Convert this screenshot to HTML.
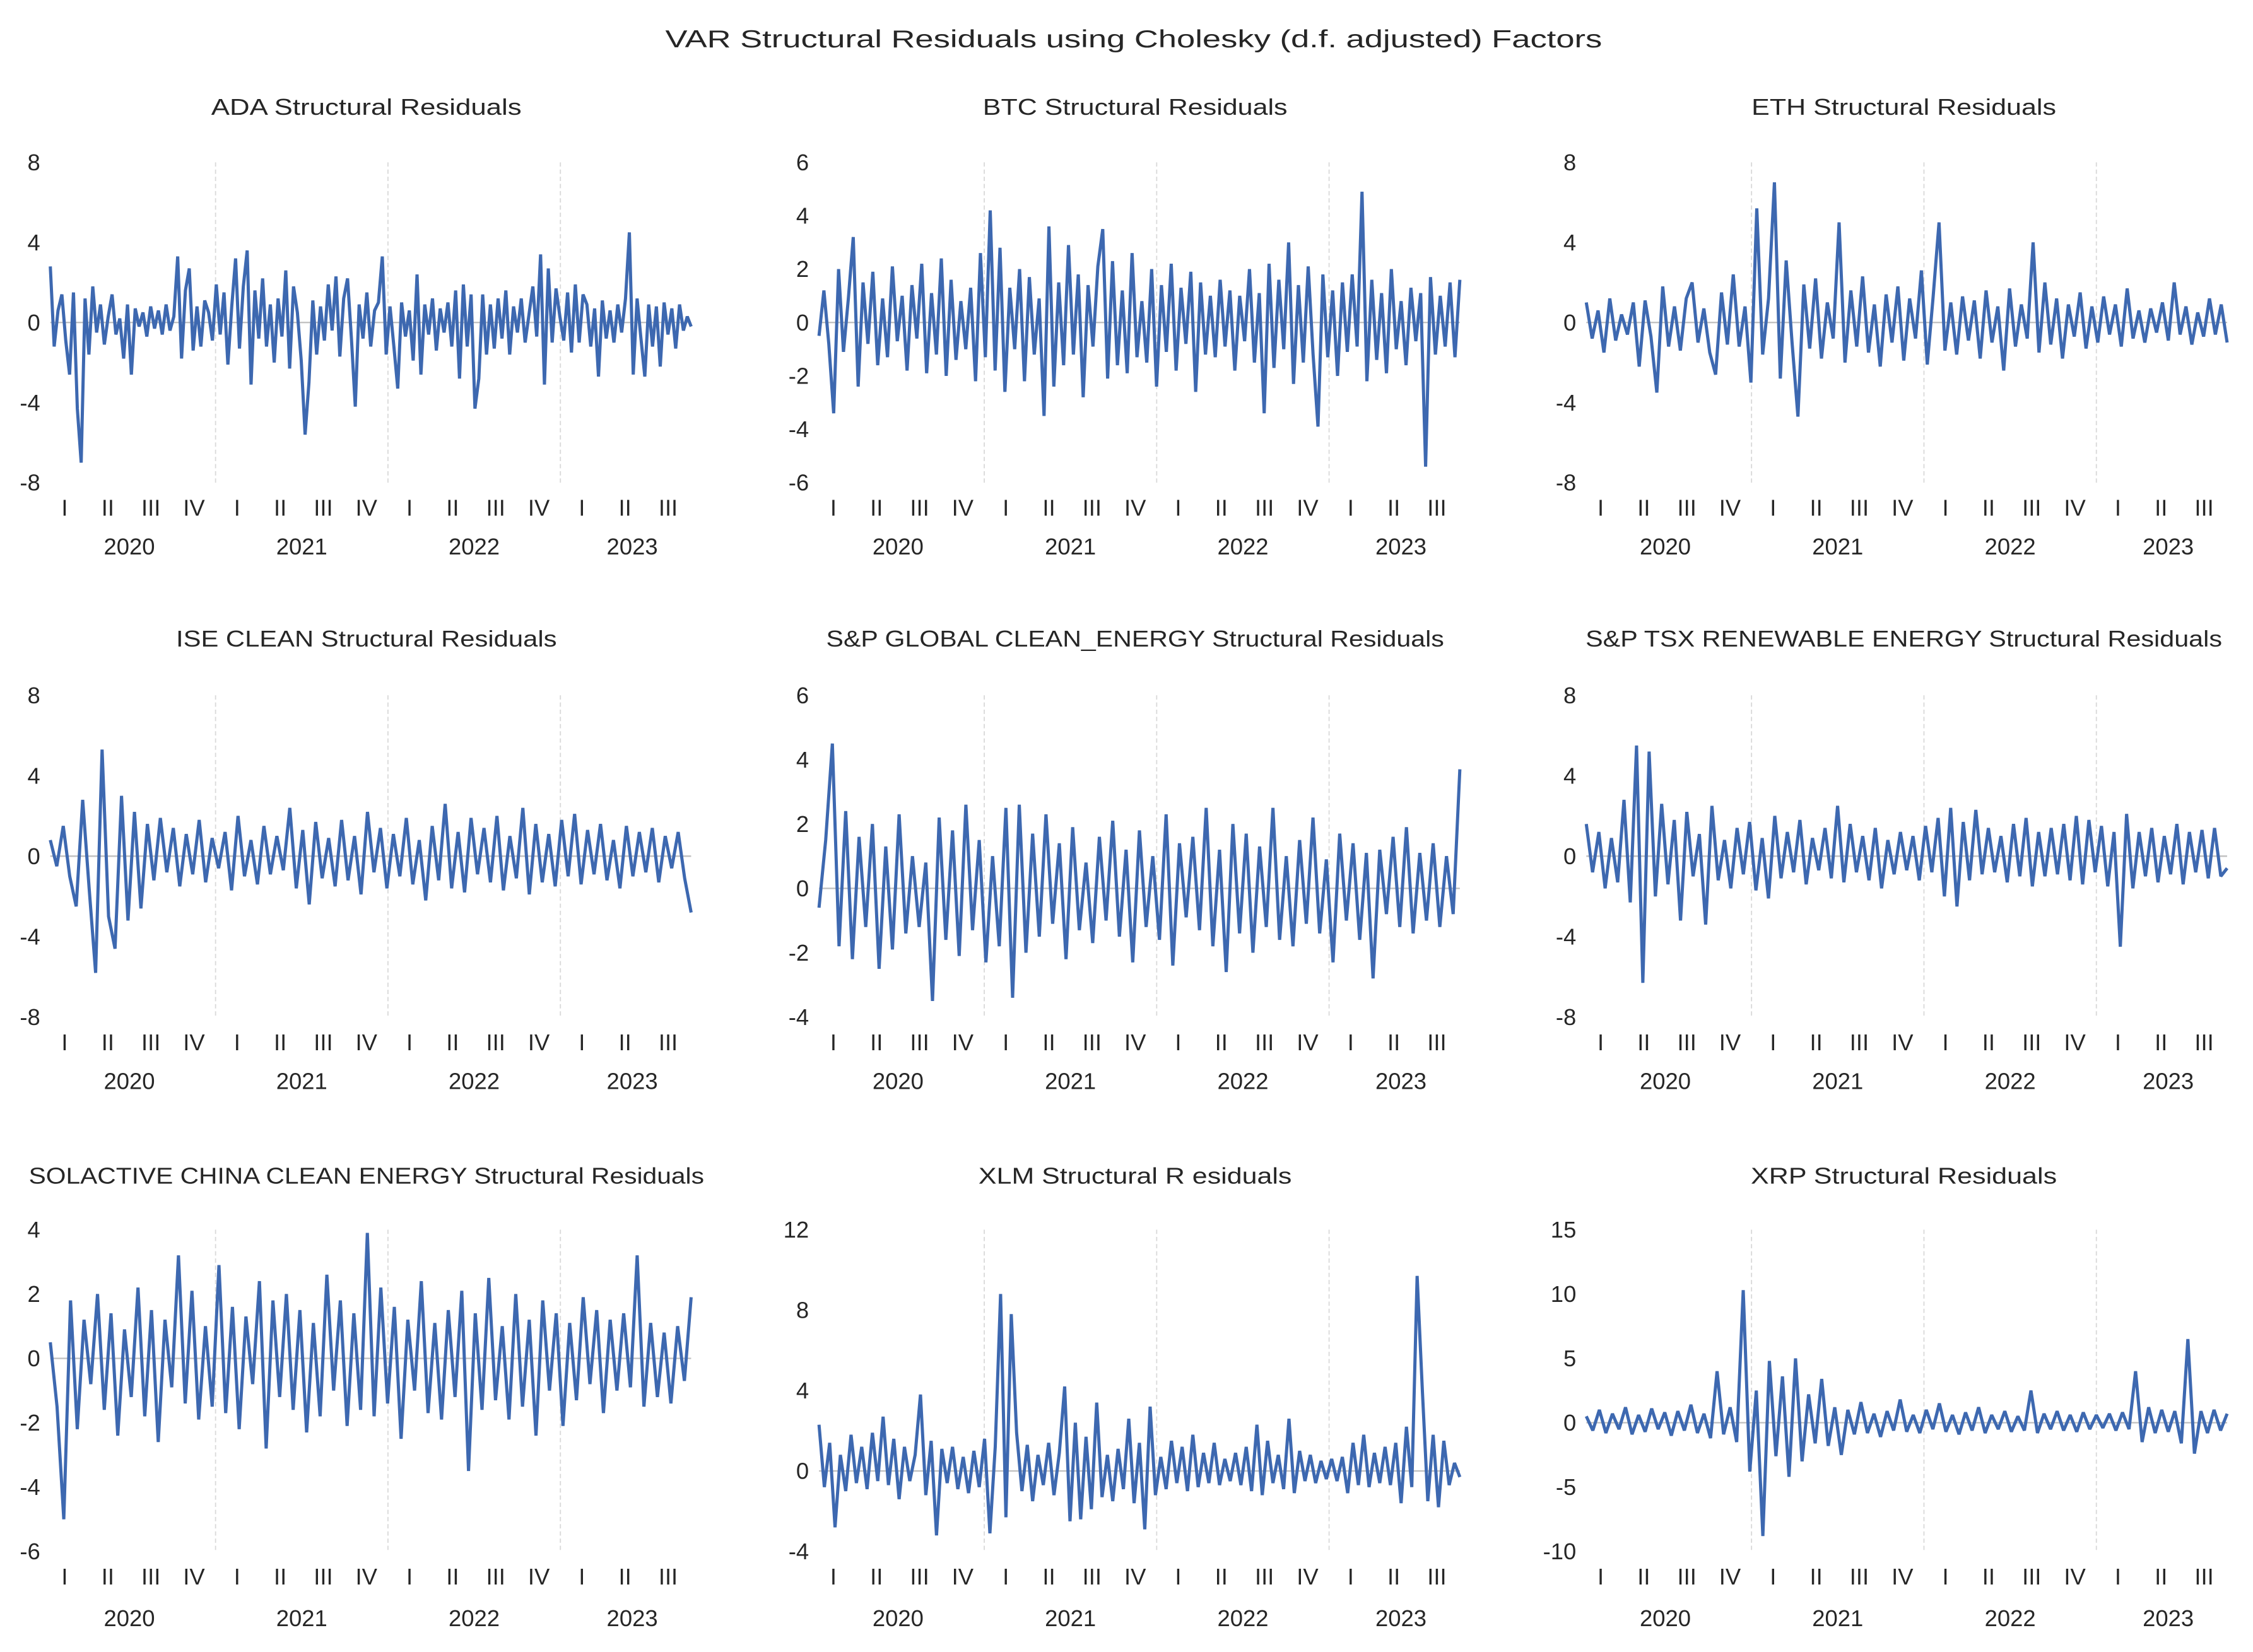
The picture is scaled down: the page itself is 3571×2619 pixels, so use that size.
<!DOCTYPE html>
<html><head><meta charset="utf-8"><style>
html,body{margin:0;padding:0;background:#fff;}
svg{display:block;}
text{font-family:"Liberation Sans",sans-serif;fill:#262626;}
</style></head><body>
<svg id="chart" xmlns="http://www.w3.org/2000/svg" width="3571" height="2619" viewBox="0 0 1568 1150">
<rect width="1568" height="1150" fill="#fff"/>
<text x="789" y="33" text-anchor="middle" font-size="17" textLength="652" lengthAdjust="spacingAndGlyphs">VAR Structural Residuals using Cholesky (d.f. adjusted) Factors</text>
<g id="panels"></g>
</svg>
<script>
const titles = ["ADA Structural Residuals","BTC Structural Residuals","ETH Structural Residuals","ISE CLEAN Structural Residuals","S&P GLOBAL CLEAN_ENERGY Structural Residuals","S&P TSX RENEWABLE ENERGY  Structural Residuals","SOLACTIVE CHINA CLEAN ENERGY Structural Residuals","XLM Structural R esiduals","XRP Structural Residuals"];
const yMins = [-8,-6,-8,-8,-4,-8,-6,-4,-10];
const yMaxs = [8,6,8,8,6,8,4,12,15];
const ySteps = [4,2,4,4,2,4,2,4,5];
const quarterLabels = ["I","II","III","IV","I","II","III","IV","I","II","III","IV","I","II","III"];
const yearLabels = ["2020","2021","2022","2023"];
const ada = [2.8,-1.2,0.6,1.4,-0.9,-2.6,1.5,-4.3,-7.0,1.2,-1.6,1.8,-0.5,0.9,-1.1,0.3,1.4,-0.6,0.2,-1.8,0.9,-2.6,0.7,-0.2,0.5,-0.7,0.8,-0.3,0.6,-0.6,0.9,-0.4,0.3,3.3,-1.8,1.6,2.7,-1.4,0.8,-1.2,1.1,0.5,-0.9,1.9,-0.6,1.5,-2.1,0.8,3.2,-1.3,1.8,3.6,-3.1,1.6,-0.8,2.2,-1.2,0.9,-2.0,1.2,-0.7,2.6,-2.3,1.8,0.5,-1.9,-5.6,-3.0,1.1,-1.6,0.8,-0.9,1.9,-0.4,2.3,-1.7,1.2,2.2,-0.8,-4.2,0.9,-0.8,1.5,-1.2,0.6,1.0,3.3,-1.6,0.8,-1.2,-3.3,1.0,-0.7,0.6,-1.9,2.4,-2.6,0.9,-0.6,1.2,-1.4,0.7,-0.5,1.0,-1.2,1.6,-2.8,1.9,-1.2,1.4,-4.3,-2.8,1.4,-1.6,0.9,-1.3,1.2,-0.8,1.6,-1.6,0.8,-0.5,1.2,-1.0,0.4,1.8,-0.7,3.4,-3.1,2.7,-1.0,1.7,0.3,-0.9,1.5,-1.5,1.9,-1.0,1.4,0.9,-1.2,0.7,-2.7,1.1,-0.8,0.6,-1.0,0.9,-0.5,1.2,4.5,-2.6,1.2,-0.8,-2.7,0.9,-1.2,0.8,-2.2,1.0,-0.6,0.7,-1.3,0.9,-0.4,0.3,-0.2];
const btc = [-0.5,1.2,-0.8,-3.4,2.0,-1.1,0.9,3.2,-2.4,1.5,-0.8,1.9,-1.6,0.9,-1.3,2.1,-0.7,1.0,-1.8,1.4,-0.6,2.2,-1.9,1.1,-1.2,2.4,-2.0,1.6,-1.4,0.8,-1.0,1.3,-2.2,2.6,-1.3,4.2,-1.8,2.8,-2.6,1.3,-1.0,2.0,-2.2,1.7,-1.2,0.9,-3.5,3.6,-2.4,1.5,-1.6,2.9,-1.2,1.8,-2.8,1.4,-0.9,2.1,3.5,-2.1,2.3,-1.6,1.2,-1.9,2.6,-1.3,0.8,-1.5,2.0,-2.4,1.4,-1.1,2.2,-1.8,1.3,-0.8,1.9,-2.6,1.5,-1.2,1.0,-1.3,1.6,-0.9,1.2,-1.8,1.0,-0.7,2.0,-1.5,1.1,-3.4,2.2,-1.7,1.6,-1.0,3.0,-2.3,1.4,-1.5,2.1,-1.2,-3.9,1.8,-1.3,1.2,-2.0,1.5,-1.1,1.8,-0.9,4.9,-2.2,1.6,-1.4,1.1,-1.9,2.0,-1.0,0.8,-1.6,1.3,-0.7,1.1,-5.4,1.7,-1.2,1.0,-0.9,1.5,-1.3,1.6];
const eth = [1.0,-0.8,0.6,-1.5,1.2,-0.9,0.4,-0.6,1.0,-2.2,1.1,-0.7,-3.5,1.8,-1.2,0.8,-1.4,1.2,2.0,-1.0,0.7,-1.5,-2.6,1.5,-1.1,2.4,-1.2,0.8,-3.0,5.7,-1.6,1.2,7.0,-2.8,3.1,-1.0,-4.7,1.9,-1.3,2.2,-1.8,1.0,-0.8,5.0,-2.0,1.6,-1.2,2.3,-1.5,0.9,-2.2,1.4,-1.0,1.8,-1.9,1.2,-0.8,2.6,-2.1,1.3,5.0,-1.4,1.0,-1.6,1.3,-0.9,1.1,-1.8,1.6,-1.0,0.8,-2.4,1.7,-1.2,0.9,-0.8,4.0,-1.5,2.0,-1.1,1.2,-1.8,0.9,-0.7,1.5,-1.3,0.8,-1.0,1.3,-0.6,0.9,-1.2,1.7,-0.8,0.6,-1.0,0.7,-0.5,1.0,-0.9,2.0,-0.6,0.8,-1.1,0.5,-0.7,1.2,-0.6,0.9,-1.0];
const ise = [0.8,-0.5,1.5,-1.0,-2.5,2.8,-1.6,-5.8,5.3,-3.0,-4.6,3.0,-3.2,2.2,-2.6,1.6,-1.2,1.9,-0.8,1.4,-1.5,1.1,-0.9,1.8,-1.3,0.9,-0.6,1.2,-1.7,2.0,-1.0,0.8,-1.4,1.5,-0.9,1.0,-0.7,2.4,-1.6,1.3,-2.4,1.7,-1.1,0.9,-1.5,1.8,-1.2,1.0,-1.9,2.2,-0.8,1.4,-1.6,1.1,-1.0,1.9,-1.4,0.8,-2.2,1.5,-1.2,2.6,-1.6,1.2,-1.8,1.9,-0.9,1.4,-1.3,2.0,-1.7,1.0,-1.1,2.4,-1.9,1.6,-1.3,1.1,-1.5,1.8,-1.0,2.1,-1.4,1.3,-0.9,1.6,-1.2,0.8,-1.6,1.5,-1.0,1.2,-0.8,1.4,-1.3,1.0,-0.6,1.2,-1.1,-2.8];
const spg = [-0.6,1.5,4.5,-1.8,2.4,-2.2,1.6,-1.2,2.0,-2.5,1.3,-1.9,2.3,-1.4,1.0,-1.2,0.8,-3.5,2.2,-1.6,1.8,-2.1,2.6,-1.3,1.5,-2.3,1.0,-1.8,2.5,-3.4,2.6,-2.0,1.7,-1.5,2.3,-1.1,1.4,-2.2,1.9,-1.3,0.8,-1.7,1.6,-1.0,2.1,-1.5,1.2,-2.3,1.8,-1.2,1.0,-1.6,2.3,-2.4,1.4,-0.9,1.6,-1.3,2.5,-1.8,1.2,-2.6,2.0,-1.4,1.7,-2.0,1.3,-1.2,2.5,-1.6,1.0,-1.8,1.5,-1.1,2.2,-1.4,0.9,-2.3,1.7,-1.0,1.4,-1.6,1.1,-2.8,1.2,-0.8,1.6,-1.2,1.9,-1.4,1.1,-1.0,1.4,-1.2,1.0,-0.8,3.7];
const tsx = [1.6,-0.8,1.2,-1.6,0.9,-1.3,2.8,-2.3,5.5,-6.3,5.2,-2.0,2.6,-1.4,1.8,-3.2,2.2,-1.0,1.1,-3.4,2.5,-1.2,0.8,-1.6,1.4,-0.9,1.7,-1.7,0.9,-2.1,2.0,-1.1,1.2,-0.8,1.8,-1.4,0.9,-0.7,1.4,-1.1,2.5,-1.3,1.6,-0.8,1.0,-1.2,1.4,-1.6,0.8,-0.9,1.2,-0.7,1.0,-1.2,1.5,-0.8,1.9,-2.0,2.4,-2.5,1.7,-1.2,2.3,-0.9,1.4,-0.8,1.0,-1.3,1.6,-1.0,1.9,-1.5,1.2,-1.0,1.4,-0.9,1.6,-1.2,2.0,-1.4,1.8,-0.8,1.5,-1.5,1.2,-4.5,2.1,-1.6,1.2,-1.0,1.4,-1.3,1.0,-0.9,1.6,-1.4,1.2,-0.8,1.3,-1.1,1.4,-1.0,-0.6];
const sol = [0.5,-1.5,-5.0,1.8,-2.2,1.2,-0.8,2.0,-1.6,1.4,-2.4,0.9,-1.2,2.2,-1.8,1.5,-2.6,1.2,-0.9,3.2,-1.4,2.1,-1.9,1.0,-1.5,2.9,-1.7,1.6,-2.2,1.3,-0.8,2.4,-2.8,1.8,-1.2,2.0,-1.6,1.5,-2.3,1.1,-1.8,2.6,-1.0,1.8,-2.1,1.4,-1.6,3.9,-1.8,2.2,-1.4,1.6,-2.5,1.2,-1.0,2.4,-1.7,1.1,-1.9,1.5,-1.2,2.1,-3.5,1.4,-1.6,2.5,-1.3,1.0,-1.9,2.0,-1.5,1.2,-2.4,1.8,-1.0,1.4,-2.1,1.1,-1.3,1.9,-0.8,1.5,-1.7,1.2,-1.0,1.4,-0.9,3.2,-1.5,1.1,-1.2,0.8,-1.4,1.0,-0.7,1.9];
const xlm = [2.3,-0.8,1.4,-2.8,0.8,-1.0,1.8,-0.6,1.2,-0.9,1.9,-0.5,2.7,-0.7,1.6,-1.4,1.2,-0.5,0.8,3.8,-1.2,1.5,-3.2,1.1,-0.6,1.2,-0.9,0.7,-1.1,1.0,-0.8,1.6,-3.1,1.2,8.8,-2.3,7.8,1.9,-1.0,1.3,-1.5,0.8,-0.7,1.4,-1.2,0.9,4.2,-2.5,2.4,-2.4,1.7,-1.9,3.4,-1.3,0.8,-1.5,1.1,-0.9,2.6,-1.6,1.4,-2.9,3.2,-1.2,0.7,-0.9,1.5,-0.6,1.2,-1.0,1.8,-0.8,0.9,-0.6,1.4,-0.7,0.6,-0.5,0.9,-0.7,1.2,-1.0,2.3,-1.2,1.5,-0.6,0.8,-0.9,2.6,-1.1,1.0,-0.5,0.8,-0.6,0.5,-0.4,0.6,-0.5,0.7,-1.1,1.4,-0.7,1.8,-0.8,0.9,-0.6,1.2,-0.7,1.4,-1.6,2.2,-0.8,9.7,3.9,-1.5,1.8,-1.8,1.5,-0.7,0.4,-0.3];
const xrp = [0.5,-0.6,1.0,-0.8,0.7,-0.5,1.2,-0.9,0.6,-0.7,1.1,-0.5,0.8,-1.0,0.9,-0.6,1.4,-0.8,0.7,-1.2,4.0,-0.9,1.2,-1.5,10.3,-3.8,2.5,-8.8,4.8,-2.6,3.6,-4.2,5.0,-3.0,2.2,-1.6,3.4,-1.8,1.2,-2.5,1.0,-0.9,1.6,-0.8,0.7,-1.1,0.9,-0.6,1.8,-0.7,0.6,-0.8,1.0,-0.5,1.5,-0.7,0.6,-0.9,0.8,-0.6,1.2,-0.8,0.6,-0.5,0.9,-0.7,0.5,-0.6,2.5,-0.8,0.7,-0.5,0.9,-0.6,0.6,-0.7,0.8,-0.5,0.6,-0.4,0.7,-0.6,0.8,-0.5,4.0,-1.5,1.2,-0.8,1.0,-0.7,0.9,-1.6,6.5,-2.4,0.9,-0.8,1.0,-0.6,0.7];
const seriesList = [ada,btc,eth,ise,spg,tsx,sol,xlm,xrp];

const NS = "http://www.w3.org/2000/svg";
const root = document.getElementById("panels");
const colX0 = [35,570,1104], colYear = [30,565,1099], colLabelX = [28,563,1097], colTitleX = [255,790,1325];
const rowTop = [113,484,856], rowBot = [336,708,1080], rowTitle = [74,444,818], rowQ = [353,725,1097], rowYr = [380,752,1126];
const titleW = [216,212,212,265,430,443,470,218,213];
const plotW = 446, yearW = 120;
function mk(tag, attrs, parent){const e=document.createElementNS(NS,tag);for(const k in attrs)e.setAttribute(k,attrs[k]);parent.appendChild(e);return e;}
seriesList.forEach((data, p) => {
  const c = p % 3, r = Math.floor(p / 3);
  const g = mk("g", {}, root);
  
  
  const yS = v => rowBot[r] - (v - yMins[p]) / (yMaxs[p] - yMins[p]) * (rowBot[r] - rowTop[r]);
  const xS = i => colX0[c] + i / (data.length - 1) * plotW;
  const t = mk("text", {x: colTitleX[c], y: rowTitle[r] + 6, "text-anchor": "middle", "font-size": 16, textLength: titleW[p], lengthAdjust: "spacingAndGlyphs"}, g);
  
  
  t.textContent = titles[p];
  for (let k = 1; k <= 3; k++) {
    const gx = colYear[c] + k * yearW;
    const gl = mk("line", {x1: gx, x2: gx, y1: rowTop[r], y2: rowBot[r], stroke: "#d9d9d9", "stroke-width": 0.8, "stroke-dasharray": "3,2"}, g);
    
    
  }
  const z = mk("line", {x1: colX0[c], x2: colX0[c] + plotW, y1: yS(0), y2: yS(0), stroke: "#bfbfbf", "stroke-width": 1}, g);
  
  
  for (let v = yMins[p]; v <= yMaxs[p] + 1e-9; v += ySteps[p]) {
    const tl = mk("text", {x: colLabelX[c], y: yS(v) + 5.5, "text-anchor": "end", "font-size": 16}, g);
    
    
    tl.textContent = v;
  }
  quarterLabels.forEach((q, k) => {
    const ql = mk("text", {x: colYear[c] + 15 + 30 * k, y: rowQ[r] + 6, "text-anchor": "middle", "font-size": 16}, g);
    
    
    ql.textContent = q;
  });
  yearLabels.forEach((yl, k) => {
    const yx = k < 3 ? colYear[c] + 60 + yearW * k : colYear[c] + 3 * yearW + 50;
    const ye = mk("text", {x: yx, y: rowYr[r] + 6, "text-anchor": "middle", "font-size": 16}, g);
    
    
    ye.textContent = yl;
  });
  const pts = data.map((v, i) => xS(i).toFixed(2) + "," + yS(v).toFixed(2)).join(" ");
  const pl = mk("polyline", {points: pts, fill: "none", stroke: "#3d68b0", "stroke-width": 2.2, "stroke-linejoin": "miter", "stroke-miterlimit": 2}, g);
  
  
});
</script>
</body></html>
